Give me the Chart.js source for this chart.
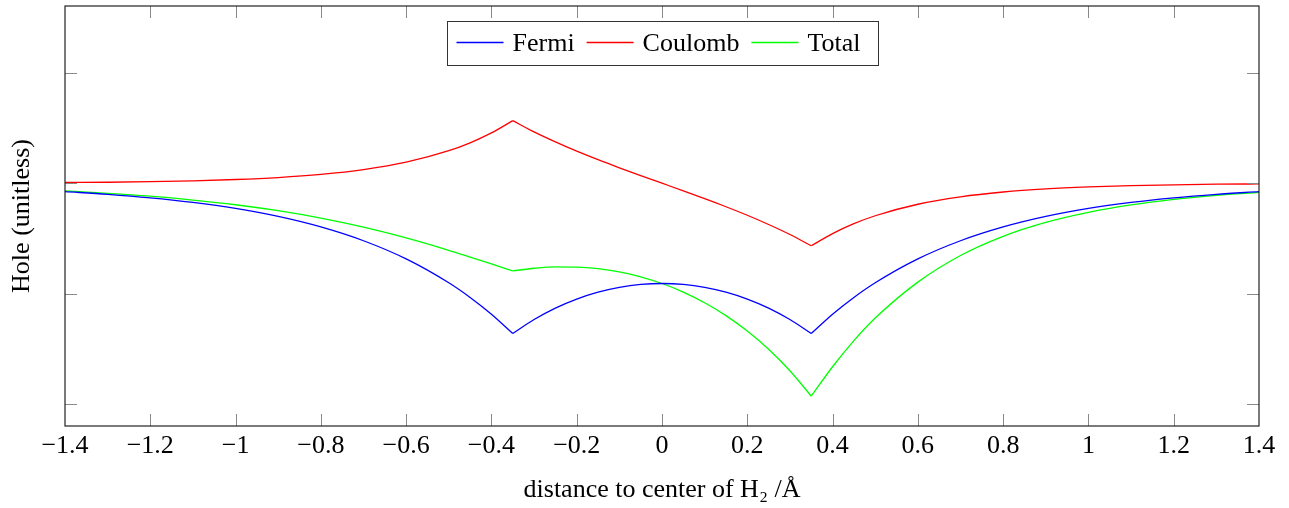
<!DOCTYPE html>
<html><head><meta charset="utf-8">
<script src="https://cdn.jsdelivr.net/npm/chart.js@4/dist/chart.umd.min.js"></script>
<style>html,body{margin:0;padding:0;background:#fff;} canvas{display:block;}</style>
</head><body>
<canvas id="c" width="1289" height="508"></canvas>
<script>
// ---- data ----
const xs = [-1.4,-1.3,-1.2,-1.1,-1.0,-0.9,-0.8,-0.7,-0.6,-0.5,-0.45,-0.4,-0.35,-0.3,-0.25,-0.2,-0.15,-0.1,-0.05,0,
            0.05,0.1,0.15,0.2,0.25,0.3,0.35,0.4,0.45,0.5,0.6,0.7,0.8,0.9,1.0,1.1,1.2,1.3,1.4];
const fermi = [-0.0152,-0.0200,-0.0263,-0.0347,-0.0456,-0.0600,-0.0790,-0.1040,-0.1368,-0.1800,-0.2065,-0.2368,-0.2717,
               -0.2464,-0.2257,-0.2094,-0.1969,-0.1882,-0.1830,-0.1813,
               -0.1830,-0.1882,-0.1969,-0.2094,-0.2257,-0.2464,-0.2717,-0.2368,-0.2065,-0.1800,-0.1368,-0.1040,-0.0790,-0.0600,-0.0456,-0.0347,-0.0263,-0.0200,-0.0152];
const coulomb = [0.0013,0.0018,0.0028,0.0043,0.0067,0.0103,0.0159,0.0246,0.0380,0.0588,0.0731,0.0910,0.1131,
                 0.0927,0.0746,0.0579,0.0425,0.0279,0.0138,0.0000,
                 -0.0138,-0.0279,-0.0425,-0.0579,-0.0746,-0.0927,-0.1131,-0.0910,-0.0731,-0.0588,-0.0380,-0.0246,-0.0159,-0.0103,-0.0067,-0.0043,-0.0028,-0.0018,-0.0013];
const total = [-0.0139,-0.0182,-0.0235,-0.0304,-0.0389,-0.0497,-0.0631,-0.0794,-0.0988,-0.1212,-0.1334,-0.1458,-0.1586,
               -0.1537,-0.1511,-0.1515,-0.1544,-0.1603,-0.1692,-0.1813,
               -0.1968,-0.2161,-0.2394,-0.2673,-0.3003,-0.3391,-0.3848,-0.3318,-0.2846,-0.2438,-0.1788,-0.1306,-0.0959,-0.0708,-0.0527,-0.0392,-0.0292,-0.0218,-0.0165];
const seriesNames = ['Fermi','Coulomb','Total'];
const seriesValues = [fermi, coulomb, total];
const seriesColors = ['#0000ff','#ff0000','#00ff00'];
const cuspXs = [-0.35, 0.35];
const xTickValues = [-1.4,-1.2,-1.0,-0.8,-0.6,-0.4,-0.2,0,0.2,0.4,0.6,0.8,1.0,1.2,1.4];
const yTickValues = [-0.4,-0.2,0,0.2];
const xRange = [-1.4, 1.4];
const yRange = [-0.4389, 0.3204];
const xLabel = 'distance to center of H\u2082 /\u00C5';
const yLabel = 'Hole (unitless)';

const FONT = '"Liberation Serif", "DejaVu Serif", serif';

function fmt(v){
  const r = Math.round(v*10)/10;
  const s = String(Math.abs(r));
  return (r < 0 ? '\u2212' : '') + s;
}

// split each series at the cusps so the smooth interpolation keeps sharp corners
const cutIdx = [0, ...cuspXs.map(c => xs.findIndex(v => Math.abs(v-c) < 1e-9)), xs.length-1];
const datasets = [];
seriesValues.forEach((vals, si) => {
  for (let k = 0; k < cutIdx.length-1; k++) {
    const pts = [];
    for (let i = cutIdx[k]; i <= cutIdx[k+1]; i++) pts.push({x: xs[i], y: vals[i]});
    datasets.push({
      label: seriesNames[si], data: pts, borderColor: seriesColors[si],
      borderWidth: 1.3, pointRadius: 0, fill: false,
      cubicInterpolationMode: 'monotone'
    });
  }
});

const framePlugin = {
  id: 'frame',
  afterDatasetsDraw(chart){
    const {ctx, chartArea: a, scales: {x, y}} = chart;
    ctx.save();
    const line = (x1,y1,x2,y2) => { ctx.beginPath(); ctx.moveTo(x1,y1); ctx.lineTo(x2,y2); ctx.stroke(); };
    ctx.strokeStyle = '#8a8a8a'; ctx.lineWidth = 1;
    x.ticks.forEach(t => {
      const p = Math.round(x.getPixelForValue(t.value)) + 0.5;
      if (p <= a.left + 2 || p >= a.right - 2) return;
      line(p, a.bottom, p, a.bottom - 12);
      line(p, a.top, p, a.top + 12);
    });
    y.ticks.forEach(t => {
      const p = Math.round(y.getPixelForValue(t.value)) + 0.5;
      if (p <= a.top + 2 || p >= a.bottom - 2) return;
      line(a.left, p, a.left + 12, p);
      line(a.right, p, a.right - 12, p);
    });
    ctx.strokeStyle = '#222'; ctx.lineWidth = 1.2;
    ctx.strokeRect(a.left, a.top, a.right - a.left, a.bottom - a.top);

    // legend box
    ctx.font = '26px ' + FONT;
    const widths = seriesNames.map(n => ctx.measureText(n).width);
    const lineLen = 47, gapLT = 9, gapIt = 12, padL = 9, padR = 18;
    const w = padL + padR + widths.reduce((s,v)=>s+v,0) + seriesNames.length*(lineLen+gapLT) + (seriesNames.length-1)*gapIt;
    const cx = (a.left + a.right)/2;
    const bx = Math.round(cx - w/2) + 0.5, by = 21.5, bh = 44;
    ctx.fillStyle = '#fff'; ctx.fillRect(bx, by, Math.round(w), bh);
    ctx.strokeStyle = '#333'; ctx.lineWidth = 1; ctx.strokeRect(bx, by, Math.round(w), bh);
    let px = bx + padL;
    ctx.textBaseline = 'alphabetic'; ctx.textAlign = 'left';
    seriesNames.forEach((n, i) => {
      ctx.strokeStyle = seriesColors[i]; ctx.lineWidth = 1.3;
      line(px, 42.5, px + lineLen, 42.5);
      px += lineLen + gapLT;
      ctx.fillStyle = '#000';
      ctx.fillText(n, px, 51);
      px += widths[i] + gapIt;
    });
    ctx.restore();
  }
};

function draw(){
  new Chart(document.getElementById('c').getContext('2d'), {
    type: 'line',
    data: { datasets },
    plugins: [framePlugin],
    options: {
      responsive: false, animation: false, devicePixelRatio: 1,
      layout: { padding: { top: 6, right: 30, left: 0, bottom: 0 } },
      plugins: { legend: { display: false }, tooltip: { enabled: false } },
      scales: {
        x: {
          type: 'linear', min: xRange[0], max: xRange[1],
          afterBuildTicks: s => { s.ticks = xTickValues.map(v => ({value: v})); },
          afterFit: s => { s.height = 82; },
          grid: { display: false, drawTicks: false },
          border: { display: false },
          ticks: { padding: 5, color: '#000', font: { family: FONT, size: 26 }, maxRotation: 0, autoSkip: false, callback: v => fmt(v) },
          title: { display: true, text: xLabel, color: '#000', font: { family: FONT, size: 26 }, padding: { top: 0, bottom: 2 } }
        },
        y: {
          type: 'linear', min: yRange[0], max: yRange[1],
          afterBuildTicks: s => { s.ticks = yTickValues.map(v => ({value: v})); },
          afterFit: s => { s.width = 65; },
          grid: { display: false, drawTicks: false },
          border: { display: false },
          ticks: { display: false },
          title: { display: true, text: yLabel, color: '#000', font: { family: FONT, size: 26 }, padding: { top: 7, bottom: 0 } }
        }
      }
    }
  });
}
if (document.fonts && document.fonts.load) {
  document.fonts.load('26px "Liberation Serif"').then(draw, draw);
} else draw();
</script>
</body></html>
